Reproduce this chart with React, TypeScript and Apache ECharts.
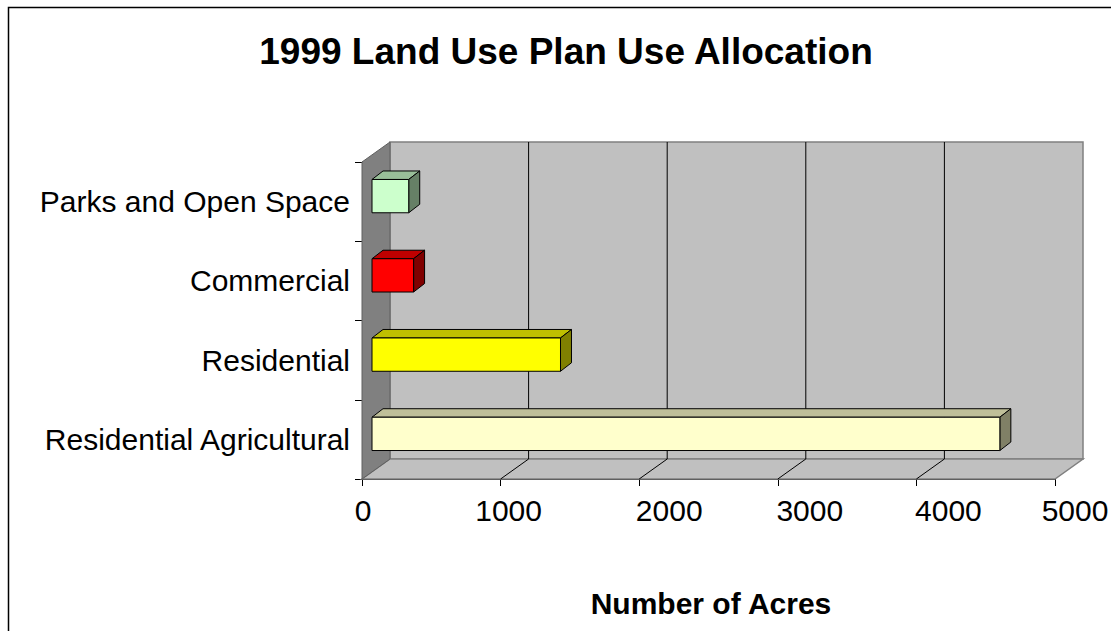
import React, { useEffect, useRef } from "react";
import * as echarts from "echarts";

const categories = ["Residential Agricultural", "Residential", "Commercial", "Parks and Open Space"];
const acres = [4530, 1360, 300, 265];
const barColors = ["#FFFFCC", "#FFFF00", "#FF0000", "#CCFFCC"];
const xTicks = [0, 1000, 2000, 3000, 4000, 5000];
const titleText = "1999 Land Use Plan Use Allocation";
const xAxisTitle = "Number of Acres";

const FONT = "'Liberation Sans', Arial, Helvetica, sans-serif";
// horizontal nudge (px) of each value label relative to its tick, as seen in the reference
const tickLabelNudge = [1, 8, 30, 32, 32, 20];

function shade(hex: string, f: number): string {
  const n = parseInt(hex.slice(1), 16);
  const r = Math.round(((n >> 16) & 255) * f);
  const g = Math.round(((n >> 8) & 255) * f);
  const b = Math.round((n & 255) * f);
  return `rgb(${r},${g},${b})`;
}

export default function App() {
  const ref = useRef<HTMLDivElement>(null);
  useEffect(() => {
    const chart = echarts.init(ref.current!, null, { renderer: "svg" });
    const DX = 28, DY = -20; // wall depth
    const BOX = 10, BOY = -5.5; // bar front-face offset
    const BDX = 11, BDY = -8.5; // bar depth
    const xMin = xTicks[0], xMax = xTicks[xTicks.length - 1];

    const rich: any = {};
    tickLabelNudge.forEach((n, i) => {
      rich["o" + i] = {
        fontSize: 30,
        fontFamily: FONT,
        color: "#000",
        padding: [0, 0, 0, n * 2],
      };
    });

    chart.setOption({
      animation: false,
      backgroundColor: "#ffffff",
      grid: {
        left: 362,
        top: 162,
        width: 693,
        height: 317,
        containLabel: false,
        outerBoundsMode: "none",
      },
      xAxis: {
        type: "value",
        min: xMin,
        max: xMax,
        interval: 1000,
        axisLine: { show: true, lineStyle: { color: "#000", width: 1 } },
        axisTick: { show: true, length: 7, lineStyle: { color: "#000", width: 1 } },
        splitLine: { show: false },
        axisLabel: {
          color: "#000",
          fontSize: 30,
          fontFamily: FONT,
          margin: 16,
          hideOverlap: false,
          formatter: (v: number) => {
            const i = xTicks.indexOf(v);
            return "{o" + (i < 0 ? 0 : i) + "|" + String(v) + "}";
          },
          rich,
        },
      },
      yAxis: {
        type: "category",
        data: categories,
        axisLine: { show: true, lineStyle: { color: "#000", width: 1 } },
        axisTick: { show: true, length: 7, lineStyle: { color: "#000", width: 1 } },
        splitLine: { show: false },
        axisLabel: { color: "#000", fontSize: 30, fontFamily: FONT, margin: 12 },
      },
      graphic: [
        {
          type: "rect",
          shape: { x: 8.5, y: 7.5, width: 1200, height: 700 },
          style: { fill: "none", stroke: "#000", lineWidth: 1.5 },
          z: 100,
        },
        {
          type: "text",
          x: 566,
          y: 51,
          style: {
            text: titleText,
            fontSize: 37,
            fontWeight: "bold",
            fontFamily: FONT,
            fill: "#000",
            align: "center",
            verticalAlign: "middle",
          },
        },
        {
          type: "text",
          x: 711,
          y: 603,
          style: {
            text: xAxisTitle,
            fontSize: 30,
            fontWeight: "bold",
            fontFamily: FONT,
            fill: "#000",
            align: "center",
            verticalAlign: "middle",
          },
        },
      ],
      series: [
        {
          type: "custom",
          name: "frame",
          z: 1,
          silent: true,
          encode: { x: 0, y: 1 },
          data: [[0, 0]],
          renderItem: (params: any, api: any) => {
            const cs = params.coordSys;
            const x0 = cs.x, y0 = cs.y, x1 = cs.x + cs.width, y1 = cs.y + cs.height;
            const children: any[] = [];
            children.push({
              type: "rect",
              shape: { x: x0 + DX, y: y0 + DY, width: cs.width, height: cs.height },
              style: { fill: "#C0C0C0", stroke: "#808080", lineWidth: 1.5 },
            });
            children.push({
              type: "polygon",
              shape: { points: [[x0, y1], [x1, y1], [x1 + DX, y1 + DY], [x0 + DX, y1 + DY]] },
              style: { fill: "#C0C0C0", stroke: "#808080", lineWidth: 1.5 },
            });
            children.push({
              type: "polygon",
              shape: { points: [[x0, y0], [x0 + DX, y0 + DY], [x0 + DX, y1 + DY], [x0, y1]] },
              style: { fill: "#808080", stroke: "#606060", lineWidth: 1 },
            });
            xTicks.slice(1, -1).forEach((v) => {
              const px = api.coord([v, 0])[0];
              children.push({
                type: "polyline",
                shape: { points: [[px, y1], [px + DX, y1 + DY], [px + DX, y0 + DY]] },
                style: { fill: "none", stroke: "#000", lineWidth: 1 },
              });
            });
            return { type: "group", children };
          },
        },
        {
          type: "custom",
          name: "Acres",
          z: 2,
          encode: { x: 0, y: 1 },
          data: acres.map((v, i) => [v, i]),
          renderItem: (params: any, api: any) => {
            const v = api.value(0);
            const c = api.value(1);
            const s = api.coord([0, c]);
            const e = api.coord([v, c]);
            const band = api.size([0, 1])[1];
            const h = band * 0.42;
            const xl = s[0] + BOX, xr = e[0] + BOX;
            const yt = s[1] + BOY - h / 2, yb = yt + h;
            const color = barColors[params.dataIndex];
            const st = { stroke: "#000", lineWidth: 1, lineJoin: "round" };
            return {
              type: "group",
              children: [
                {
                  type: "polygon",
                  shape: { points: [[xl, yt], [xr, yt], [xr + BDX, yt + BDY], [xl + BDX, yt + BDY]] },
                  style: { fill: shade(color, 0.75), ...st },
                },
                {
                  type: "polygon",
                  shape: { points: [[xr, yt], [xr + BDX, yt + BDY], [xr + BDX, yb + BDY], [xr, yb]] },
                  style: { fill: shade(color, 0.5), ...st },
                },
                {
                  type: "rect",
                  shape: { x: xl, y: yt, width: xr - xl, height: yb - yt },
                  style: { fill: color, ...st },
                },
              ],
            };
          },
        },
      ],
    });
    return () => chart.dispose();
  }, []);
  return (
    <div
      ref={ref}
      style={{ position: "absolute", left: 0, top: 0, width: 1111, height: 631, background: "#fff" }}
    />
  );
}
